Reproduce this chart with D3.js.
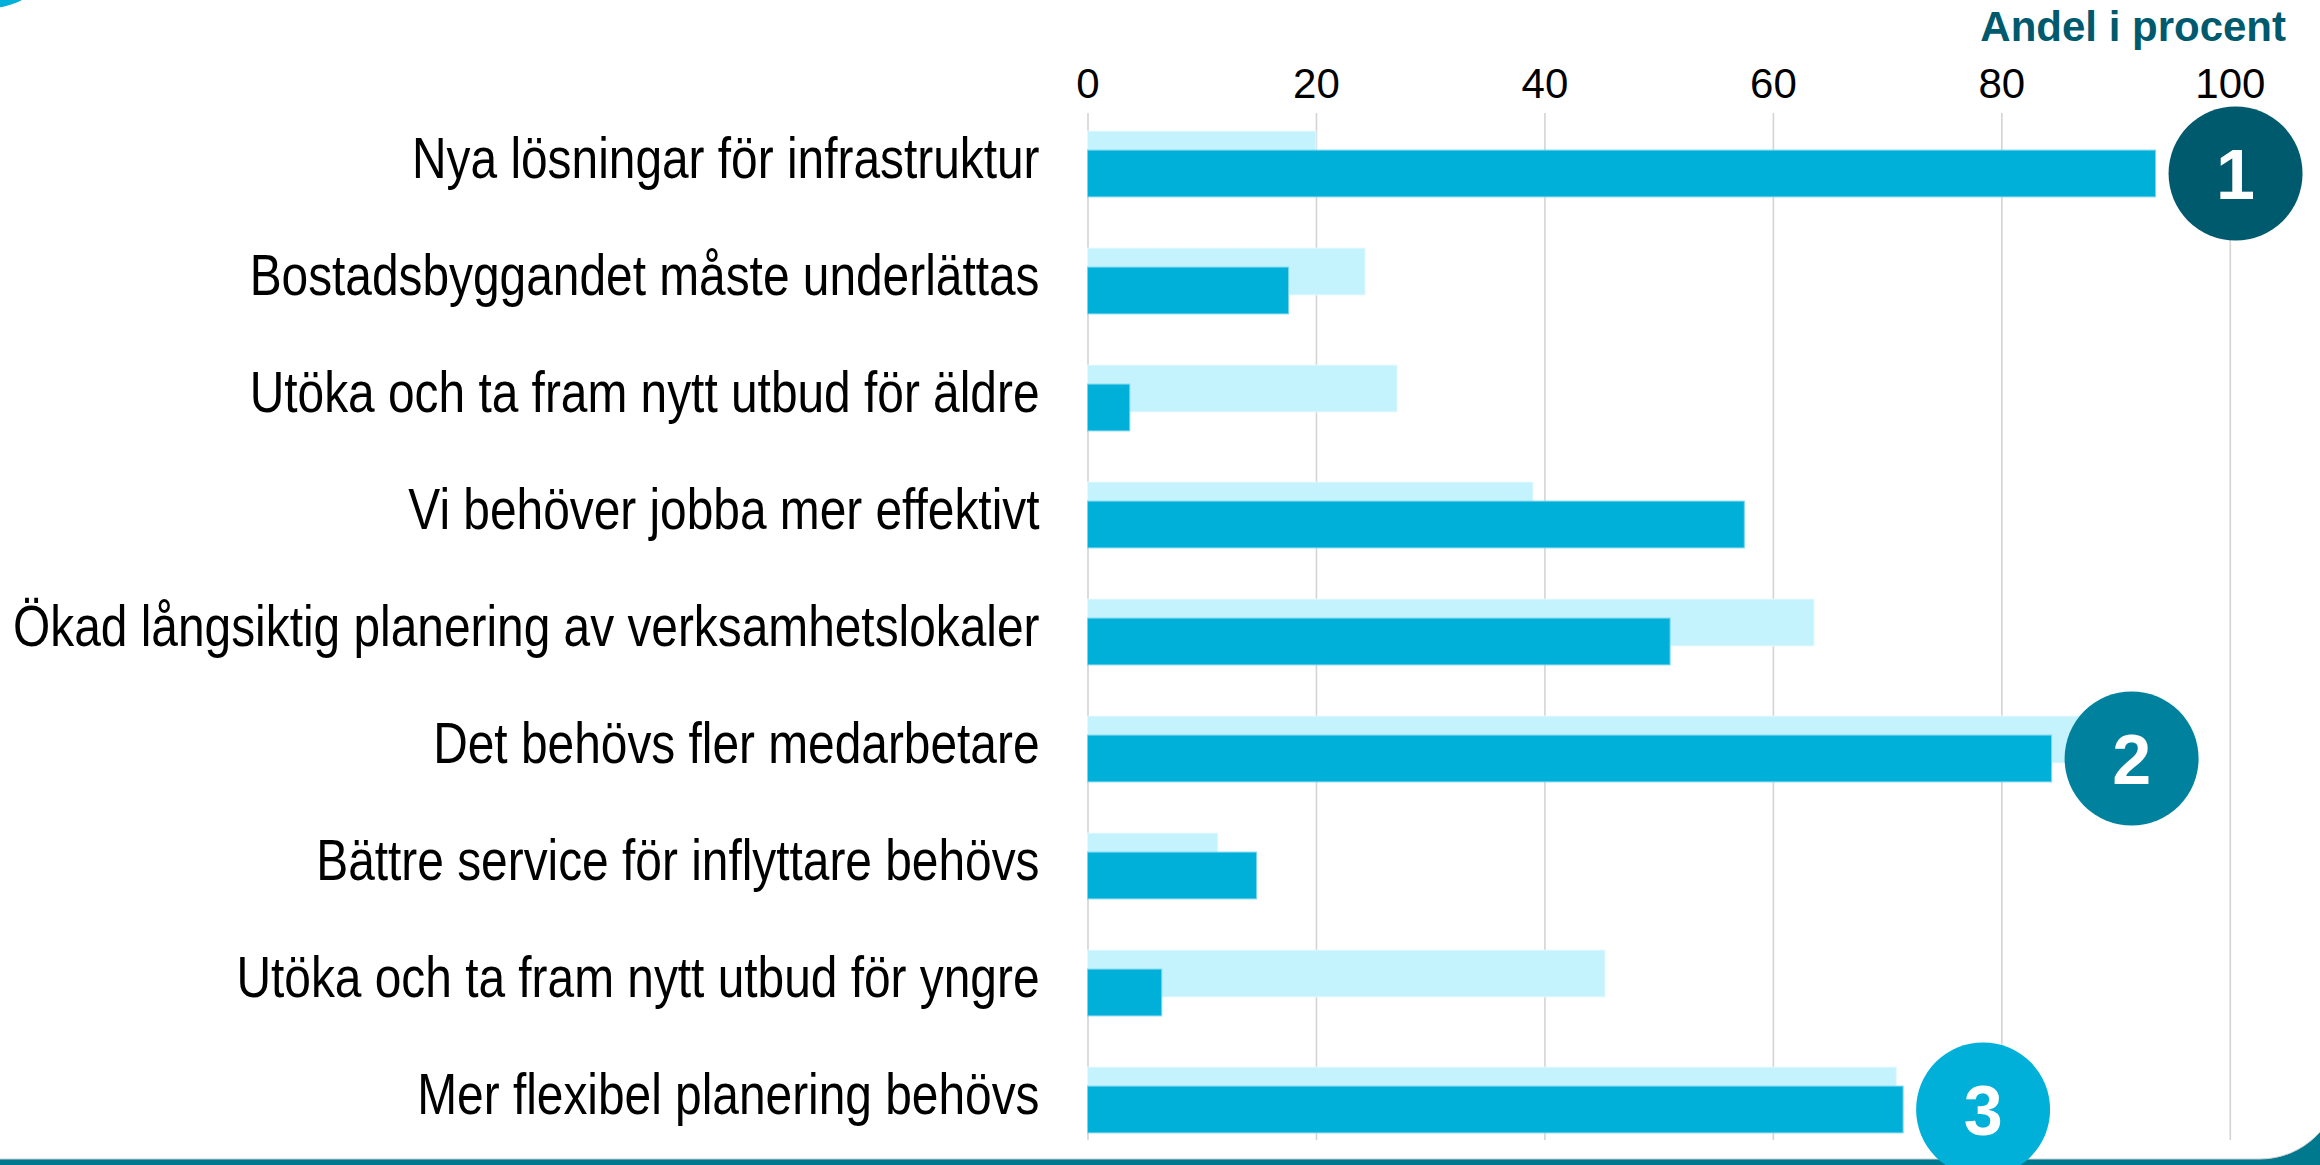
<!DOCTYPE html>
<html>
<head>
<meta charset="utf-8">
<script src="https://cdn.jsdelivr.net/npm/d3@7"></script>
<style>
    body { margin: 0; background: #ffffff; }
    svg { display: block; font-family: "Liberation Sans", Arial, sans-serif; }
</style>
</head>
<body>
<div id="chart-bar"></div>
<script>
const categories = [
    "Nya lösningar för infrastruktur",
    "Bostadsbyggandet måste underlättas",
    "Utöka och ta fram nytt utbud för äldre",
    "Vi behöver jobba mer effektivt",
    "Ökad långsiktig planering av verksamhetslokaler",
    "Det behövs fler medarbetare",
    "Bättre service för inflyttare behövs",
    "Utöka och ta fram nytt utbud för yngre",
    "Mer flexibel planering behövs"
];

// ljus serie (bakom) och mörk serie (fram)
const lightValues = [20, 24.3, 27.1, 39, 63.6, 87, 11.4, 45.3, 70.8];
const darkValues = [93.5, 17.6, 3.7, 57.5, 51, 84.4, 14.8, 6.5, 71.4];

const tickValues = [0, 20, 40, 60, 80, 100];
const axisTitle = "Andel i procent";

// placering 1-3 markeras med cirklar
const rankCategories = ["Nya lösningar för infrastruktur", "Det behövs fler medarbetare", "Mer flexibel planering behövs"];
const rankLabels = ["1", "2", "3"];
const rankColors = ["#005a6e", "#00829e", "#00b0d8"];

const width = 2320;
const height = 1165;

const svg = d3.select("#chart-bar")
    .append("svg")
    .attr("width", width)
    .attr("height", height);

// bakgrund: teal ram med rundat hörn nere till höger
svg.append("rect")
    .attr("width", width)
    .attr("height", height)
    .attr("fill", "#00798f");

svg.append("rect")
    .attr("x", -200)
    .attr("y", -200)
    .attr("width", 2540)
    .attr("height", 1359)
    .attr("rx", 80)
    .attr("fill", "#ffffff")
    .attr("stroke", "#cfcfcf")
    .attr("stroke-width", 1);

svg.append("circle")
    .attr("cx", -10)
    .attr("cy", -60)
    .attr("r", 68)
    .attr("fill", "#00b0d8");

const x = d3.scaleLinear()
    .domain([0, 100])
    .range([1087.5, 2229.8]);

const y = d3.scaleBand()
    .domain(categories)
    .range([105.5, 105.5 + 117 * categories.length]);

const barH = y.bandwidth() * 0.4;
const shift = 19;
const lightOffset = (y.bandwidth() - barH - shift) / 2;

const gridTop = 113;
const gridBottom = 1140;

const xAxis = svg.append("g")
    .attr("transform", `translate(0,${gridTop})`)
    .call(d3.axisTop(x).tickValues(tickValues).tickSize(-(gridBottom - gridTop)).tickPadding(15));

xAxis.select(".domain").remove();
xAxis.selectAll(".tick line")
    .attr("stroke", "#d4d4d4")
    .attr("stroke-width", 1.6);
xAxis.selectAll(".tick text")
    .attr("font-size", 42)
    .attr("font-family", "Liberation Sans, Arial, sans-serif")
    .attr("fill", "#000000");

svg.append("text")
    .attr("x", 2286)
    .attr("y", 41)
    .attr("text-anchor", "end")
    .attr("font-size", 42)
    .attr("font-weight", "bold")
    .attr("fill", "#005a6e")
    .text(axisTitle);

// etiketterna är smalare och högre i originalet, så texten trycks ihop på bredden
const labelSquash = 0.825;
const yAxis = svg.append("g")
    .attr("transform", `translate(${x(0)},0)`)
    .call(d3.axisLeft(y).tickSize(0).tickPadding(48));

yAxis.select(".domain").remove();
yAxis.selectAll(".tick text")
    .attr("font-size", 58)
    .attr("dy", "0.24em")
    .attr("x", -48 / labelSquash)
    .attr("transform", `scale(${labelSquash},1)`)
    .attr("font-family", "Liberation Sans, Arial, sans-serif")
    .attr("fill", "#000000");

svg.append("g")
    .selectAll("rect")
    .data(categories)
    .join("rect")
    .attr("x", x(0))
    .attr("y", d => y(d) + lightOffset)
    .attr("width", (d, i) => x(lightValues[i]) - x(0))
    .attr("height", barH)
    .attr("fill", "#c4f2fd")
    .attr("stroke", "#e4f9fe")
    .attr("stroke-width", 1);

svg.append("g")
    .selectAll("rect")
    .data(categories)
    .join("rect")
    .attr("x", x(0))
    .attr("y", d => y(d) + lightOffset + shift)
    .attr("width", (d, i) => x(darkValues[i]) - x(0))
    .attr("height", barH)
    .attr("fill", "#00b0d8")
    .attr("stroke", "#7ad6ee")
    .attr("stroke-width", 1);

const r = 67;
const badge = svg.append("g")
    .selectAll("g")
    .data(rankCategories)
    .join("g")
    .attr("transform", d => {
        const i = categories.indexOf(d);
        return `translate(${x(darkValues[i]) + 13 + r},${y(d) + lightOffset + shift + barH / 2})`;
    });

badge.append("circle")
    .attr("r", r)
    .attr("fill", (d, i) => rankColors[i]);

badge.append("text")
    .attr("text-anchor", "middle")
    .attr("dy", "0.37em")
    .attr("font-size", 70)
    .attr("font-weight", "bold")
    .attr("fill", "#ffffff")
    .text((d, i) => rankLabels[i]);
</script>
</body>
</html>
